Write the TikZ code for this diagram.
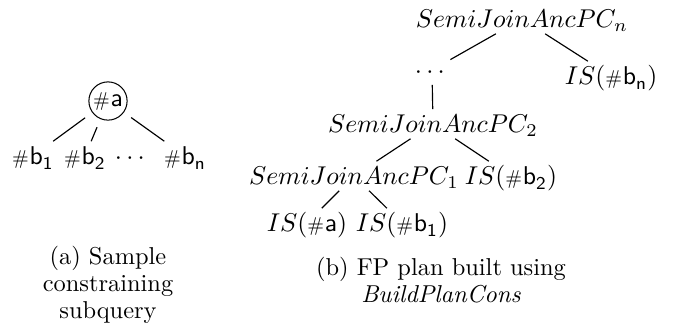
\documentclass[tikz,border=0pt]{standalone}
\usepackage{amsmath}
\usepackage{graphicx}
\newcommand{\hsh}{\scalebox{0.78}{\textsf{\#}}\kern0.3pt}
\begin{document}
\begin{tikzpicture}[x=0.389pt,y=-0.389pt,
  lbl/.style={inner sep=0.3pt,text height=8.5pt,text depth=2pt,font=\fontsize{10}{12}\selectfont},
  circ/.style={circle,draw,inner sep=0.5pt,minimum size=31*0.389pt,outer sep=3.6pt,font=\fontsize{10}{12}\selectfont},
  conn/.style={draw,line width=0.45pt},
  captxt/.style={align=center,inner sep=0pt,font=\fontsize{9.5}{10.6}\selectfont}]
\useasboundingbox (0,0) rectangle (683,328);
% (a)
\node[circ] (a) at (108,101) {\hsh\textsf{a}};
\node[lbl] (b1) at (33,156) {$\text{\hsh\textsf{b}}_{\textsf{1}}$};
\node[lbl] (b2) at (85,156) {$\text{\hsh\textsf{b}}_{\textsf{2}}$};
\node[lbl] (bd) at (132,156) {$\cdots$};
\node[lbl] (bn) at (185,156) {$\text{\hsh\textsf{b}}_{\textsf{n}}$};
\path[conn] (a) -- (b1);
\path[conn] (a) -- (b2);
\path[conn] (a) -- (bn);
\node[captxt] (capa) at (108,285) {(a) Sample\\constraining\\subquery};
% (b)
\node[lbl] (sjn) at (522,19) {$SemiJoinAncPC_n$};
\node[lbl] (dots) at (432,70) {$\cdots$};
\node[lbl] (isbn) at (611,76) {$IS(\text{\hsh\textsf{b}}_{\textsf{n}})$};
\node[lbl] (sj2) at (433,124) {$SemiJoinAncPC_2$};
\node[lbl] (sj1) at (354,176) {$SemiJoinAncPC_1$};
\node[lbl] (isb2) at (511,176) {$IS(\text{\hsh\textsf{b}}_{\textsf{2}})$};
\node[lbl] (isa) at (307,223) {$IS(\text{\hsh\textsf{a}})$};
\node[lbl] (isb1) at (402,223) {$IS(\text{\hsh\textsf{b}}_{\textsf{1}})$};
\path[conn] (sjn) -- (dots);
\path[conn] (sjn) -- (isbn);
\path[conn] (dots) -- (sj2);
\path[conn] (sj2) -- (sj1);
\path[conn] (sj2) -- (isb2);
\path[conn] (sj1) -- (isa);
\path[conn] (sj1) -- (isb1);
\node[captxt] (capb) at (441,280) {(b) FP plan built using\\\textit{BuildPlanCons}};
\end{tikzpicture}
\end{document}
